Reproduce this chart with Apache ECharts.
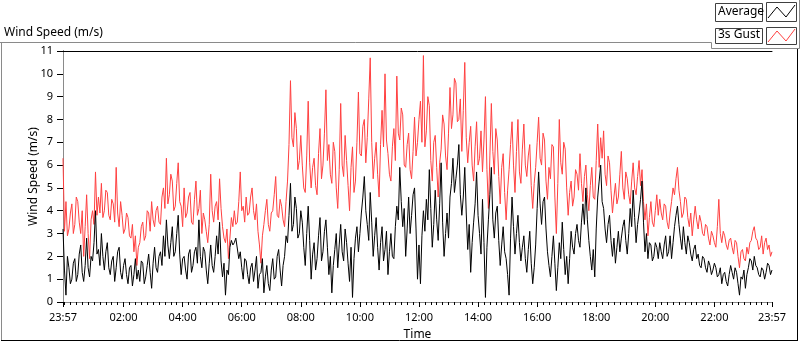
<!DOCTYPE html>
<html>
    <head>
        <title>Wind Speed (m/s)</title>
        <meta charset="UTF-8">
        <script src="https://cdn.jsdelivr.net/npm/echarts@6/dist/echarts.min.js"></script>
        <style>
            body { margin: 0; background-color: #fff; }
            #main { width: 800px; height: 342px; }
        </style>
    </head>
    <body>
        <div id="main"></div>
        <script>
            // one value every 3 minutes, starting at 23:57
            var stepMinutes = 3;
            var gust = [
                6.3, 3.1, 4.4, 2.9, 3.2, 3.9, 4.3, 3.0, 3.4, 4.6, 4.4, 3.5, 3.0, 4.0, 2.0, 3.3, 4.7, 3.0, 1.9, 3.6,
                4.0, 3.4, 5.7, 3.8, 4.6, 3.9, 5.2, 3.7, 4.0, 4.9, 4.8, 3.8, 3.6, 4.5, 4.3, 3.5, 5.9, 3.9, 3.3, 4.4,
                3.8, 3.0, 3.2, 3.9, 3.7, 2.9, 2.8, 3.4, 2.2, 2.9, 1.6, 2.4, 2.6, 3.3, 3.5, 2.7, 2.9, 4.0, 3.9, 3.1,
                4.4, 3.6, 3.3, 4.0, 4.2, 3.5, 3.4, 4.6, 5.0, 4.1, 6.3, 4.3, 4.7, 5.6, 5.3, 4.0, 4.2, 5.2, 6.1, 4.4,
                4.2, 3.3, 5.0, 3.7, 3.9, 4.6, 4.8, 3.5, 3.4, 4.5, 5.3, 3.8, 4.1, 4.9, 3.0, 3.9, 3.6, 3.1, 2.6, 3.4,
                5.6, 4.0, 3.5, 4.2, 4.4, 3.6, 5.4, 4.1, 3.3, 2.8, 2.6, 3.2, 1.9, 2.8, 3.7, 3.3, 4.0, 3.4, 3.5, 4.4,
                5.7, 4.0, 4.2, 3.5, 4.6, 3.8, 3.9, 4.6, 5.0, 4.0, 3.6, 4.3, 3.1, 2.5, 1.7, 2.9, 3.4, 4.0, 4.5, 3.4,
                3.1, 3.9, 4.0, 4.7, 5.5, 3.8, 3.7, 4.5, 4.2, 3.6, 3.3, 4.4, 5.3, 6.9, 9.7, 7.2, 6.8, 8.3, 7.6, 5.8,
                6.2, 7.3, 6.0, 5.0, 4.8, 6.4, 8.8, 6.1, 5.0, 5.9, 6.3, 5.1, 4.7, 6.5, 7.6, 5.4, 6.0, 7.4, 9.3, 6.2,
                6.9, 5.6, 5.2, 7.0, 6.6, 5.0, 4.1, 5.8, 8.7, 6.0, 5.5, 7.3, 6.2, 5.1, 4.0, 5.9, 6.8, 4.8, 5.3, 7.0,
                9.2, 6.5, 6.4, 7.7, 8.0, 6.1, 7.2, 8.9, 10.7, 7.0, 5.4, 6.3, 7.0, 5.6, 4.6, 6.9, 8.4, 6.8, 10.0, 7.1,
                6.5, 5.6, 5.3, 6.8, 7.6, 6.2, 9.9, 7.4, 7.1, 8.5, 8.2, 6.0, 5.9, 6.9, 7.4, 5.8, 5.4, 6.6, 8.1, 6.4,
                7.0, 8.0, 8.8, 7.0, 10.8, 6.8, 7.5, 9.0, 8.6, 6.2, 5.3, 7.0, 7.3, 5.9, 4.6, 6.1, 6.7, 8.2, 7.8, 6.4,
                5.8, 7.4, 9.4, 7.6, 8.2, 9.8, 9.6, 7.9, 8.0, 8.9, 6.6, 8.4, 10.5, 7.2, 6.1, 7.0, 7.7, 6.0, 5.3, 6.8,
                7.9, 6.0, 6.3, 7.5, 5.7, 7.1, 9.0, 5.8, 4.1, 6.4, 8.7, 6.6, 5.6, 7.6, 7.1, 5.5, 4.3, 5.9, 6.5, 4.8,
                3.6, 4.9, 5.8, 6.9, 7.9, 6.0, 4.8, 6.6, 8.0, 5.7, 5.2, 6.7, 7.8, 6.0, 5.5, 6.4, 6.9, 5.1, 4.1, 5.2,
                5.9, 7.0, 8.1, 6.3, 6.0, 7.4, 7.1, 5.3, 4.5, 5.9, 5.4, 6.9, 6.8, 4.6, 3.0, 5.2, 8.0, 6.1, 5.6, 7.0,
                6.7, 5.0, 3.8, 4.8, 5.3, 4.2, 4.6, 5.8, 5.6, 4.9, 6.5, 5.2, 4.4, 5.5, 6.0, 4.7, 4.0, 5.1, 5.9, 4.6,
                4.5, 6.2, 7.8, 5.9, 7.2, 6.3, 7.5, 5.6, 5.1, 6.4, 6.1, 4.9, 3.9, 4.6, 5.2, 4.3, 4.6, 5.6, 6.6, 5.0,
                4.5, 5.7, 5.4, 4.7, 4.3, 5.3, 6.1, 5.0, 4.7, 5.5, 6.2, 5.1, 5.8, 4.4, 3.6, 4.3, 2.9, 3.7, 4.4, 3.5,
                3.3, 4.0, 4.7, 3.8, 4.5, 3.9, 3.6, 4.3, 4.2, 3.5, 3.2, 3.9, 4.4, 5.0, 4.7, 5.4, 5.9, 4.9, 4.4, 3.7,
                3.9, 4.6, 4.5, 3.7, 3.3, 3.9, 2.9, 3.6, 4.2, 3.6, 3.2, 3.8, 3.5, 3.0, 2.9, 3.4, 3.3, 2.8, 2.5, 3.1,
                2.9, 2.6, 2.4, 3.3, 4.5, 3.0, 2.6, 3.1, 2.9, 2.5, 2.3, 2.7, 2.8, 2.4, 2.1, 2.7, 2.6, 2.0, 1.5, 2.2,
                2.3, 1.9, 1.8, 2.4, 2.1, 2.6, 2.7, 3.1, 3.3, 2.8, 2.7, 2.3, 2.4, 2.9, 2.1, 2.6, 2.8, 2.3, 2.5, 2.0,
                2.2
            ];
            var average = [
                3.2, 1.4, 0.3, 2.0, 1.5, 0.8, 1.0, 1.7, 1.9, 0.9, 1.2, 2.1, 2.5, 1.3, 0.9, 1.6, 2.8, 1.5, 1.1, 2.0,
                1.8, 2.6, 4.0, 2.1, 2.3, 1.6, 3.0, 2.0, 1.4, 2.2, 2.6, 1.5, 1.2, 1.8, 2.0, 0.9, 1.5, 2.2, 2.4, 1.3,
                1.0, 1.6, 1.9, 1.2, 0.8, 1.5, 1.6, 0.7, 1.2, 1.9, 1.0, 1.4, 0.9, 1.8, 1.7, 0.8, 1.1, 1.6, 2.1, 1.3,
                0.6, 1.7, 2.4, 1.5, 1.3, 2.0, 2.2, 1.6, 2.9, 2.0, 3.6, 2.5, 1.9, 2.6, 3.3, 2.0, 2.2, 3.0, 3.8, 2.1,
                1.2, 1.9, 2.0, 1.4, 1.0, 2.1, 2.3, 1.3, 1.6, 2.2, 2.4, 1.7, 3.6, 2.0, 1.5, 2.4, 2.2, 1.4, 0.8, 1.7,
                2.5, 1.6, 1.3, 2.0, 2.9, 2.1, 3.5, 1.8, 1.1, 1.7, 0.3, 1.4, 1.2, 2.4, 2.7, 2.5, 2.6, 2.8, 2.8, 1.9,
                2.2, 1.5, 1.0, 1.9, 1.8, 1.2, 0.8, 1.5, 1.7, 0.9, 1.4, 2.0, 0.6, 1.2, 1.3, 1.9, 0.4, 1.1, 1.6, 0.8,
                0.5, 1.4, 1.9, 1.0, 1.1, 2.0, 2.3, 1.4, 0.7, 1.6, 2.0, 2.9, 2.6, 3.8, 5.2, 3.1, 3.4, 4.6, 4.1, 2.8,
                3.0, 4.0, 3.5, 2.4, 1.6, 3.0, 4.2, 2.7, 1.0, 2.1, 2.6, 1.4, 1.9, 2.9, 3.7, 1.8, 2.2, 3.1, 3.6, 2.4,
                1.2, 2.0, 0.4, 1.6, 2.3, 3.0, 1.5, 2.5, 3.4, 2.2, 1.8, 3.2, 2.6, 1.7, 0.9, 2.4, 0.2, 1.9, 2.8, 3.3,
                2.2, 3.0, 3.9, 4.6, 5.5, 4.0, 3.4, 2.7, 4.8, 3.5, 2.0, 2.9, 3.7, 2.4, 1.4, 2.6, 3.3, 1.8, 2.3, 3.1,
                1.2, 2.2, 3.0, 2.0, 1.9, 3.3, 4.2, 3.6, 5.9, 4.4, 3.3, 4.1, 2.0, 3.2, 4.6, 3.0, 3.8, 4.7, 5.0, 3.2,
                1.0, 2.5, 0.8, 2.9, 4.0, 3.1, 4.5, 3.6, 5.8, 4.1, 2.4, 3.4, 4.9, 3.6, 2.7, 4.3, 6.1, 3.5, 2.0, 3.0,
                3.9, 2.8, 4.6, 5.2, 6.3, 4.8, 5.4, 6.0, 6.9, 4.7, 3.8, 4.6, 5.9, 3.9, 2.3, 3.4, 1.3, 2.6, 3.5, 4.3,
                5.7, 3.8, 3.0, 2.1, 4.5, 2.6, 0.2, 2.4, 3.6, 4.7, 5.9, 3.6, 2.8, 3.9, 4.2, 2.7, 1.6, 2.5, 3.3, 2.2,
                1.9, 1.2, 0.3, 2.8, 4.6, 3.3, 2.1, 3.0, 3.8, 2.6, 1.8, 2.4, 2.9, 1.9, 1.3, 2.3, 3.1, 1.7, 0.8, 1.5,
                2.5, 4.1, 5.7, 4.3, 3.4, 4.4, 4.6, 3.2, 2.2, 1.6, 1.1, 2.0, 2.9, 1.7, 0.5, 1.5, 2.6, 1.9, 3.5, 2.3,
                1.2, 2.0, 0.8, 1.9, 3.1, 2.4, 2.1, 3.0, 3.4, 2.7, 2.4, 3.5, 4.3, 3.4, 5.0, 3.6, 2.7, 2.0, 1.4, 2.3,
                1.1, 3.2, 4.6, 5.3, 6.0, 4.4, 4.1, 3.2, 2.6, 3.4, 3.8, 2.7, 2.0, 2.8, 1.7, 2.4, 3.1, 2.2, 2.8, 3.3,
                3.6, 2.7, 2.1, 3.0, 4.1, 3.3, 4.9, 3.7, 2.6, 3.4, 3.9, 4.5, 5.3, 3.5, 2.2, 3.0, 1.9, 2.6, 2.5, 1.8,
                2.0, 2.6, 2.4, 1.9, 2.6, 2.2, 1.9, 2.5, 2.9, 2.0, 2.2, 2.9, 1.9, 2.6, 3.3, 3.8, 4.2, 3.4, 2.8, 2.3,
                3.3, 2.6, 2.1, 2.9, 2.6, 2.1, 1.8, 2.3, 2.5, 1.9, 2.1, 1.6, 1.5, 2.0, 1.9, 1.5, 1.3, 1.8, 1.6, 1.2,
                1.4, 1.7, 1.5, 1.1, 1.2, 1.5, 0.8, 1.2, 1.3, 0.9, 0.7, 1.2, 1.6, 1.3, 1.0, 1.5, 1.3, 0.8, 0.3, 1.1,
                1.0, 1.4, 0.6, 1.2, 1.5, 1.9, 1.8, 1.4, 2.0, 1.6, 1.5, 1.2, 1.1, 1.5, 1.4, 1.0, 1.3, 1.7, 1.6, 1.2,
                1.4
            ];
            // minutes after 23:57 where the time labels sit
            var labelMinutes = [0, 123, 243, 363, 483, 603, 723, 843, 963, 1083, 1203, 1323, 1440];
            var minorMinutes = [];
            for (var m = 3; m < 1440; m += 12) {
                minorMinutes.push(m);
            }

            function toPairs(arr) {
                return arr.map(function (v, i) { return [i * stepMinutes, v]; });
            }
            function clock(min) {
                var t = (min - 3 + 1440) % 1440;
                var h = Math.floor(t / 60), mm = t % 60;
                return (h < 10 ? '0' : '') + h + ':' + (mm < 10 ? '0' : '') + mm;
            }

            var font = 'Noto Sans';
            var chart = echarts.init(document.getElementById('main'));
            var option = {
                animation: false,
                textStyle: { fontFamily: font },
                grid: { left: 63, right: 28, top: 51, bottom: 40, show: false, containLabel: false, outerBoundsMode: 'none' },
                graphic: [
                    { type: 'text', left: 4, top: 27, style: { text: 'Wind Speed (m/s)', font: '12px "Noto Sans"', fill: '#000' } },
                    { type: 'polyline', shape: { points: [[0, 42.5], [711.5, 42.5], [711.5, 48.5], [799.5, 48.5], [799.5, 0]] }, style: { stroke: '#8a8a8a', lineWidth: 1, fill: null } },
                    { type: 'line', shape: { x1: 1.5, y1: 42, x2: 1.5, y2: 341 }, style: { stroke: '#8a8a8a', lineWidth: 1 } },
                    { type: 'line', shape: { x1: 1, y1: 340.5, x2: 798, y2: 340.5 }, style: { stroke: '#000', lineWidth: 1 } },
                    { type: 'line', shape: { x1: 797.5, y1: 49, x2: 797.5, y2: 341 }, style: { stroke: '#000', lineWidth: 1 } },
                    // legend boxes
                    { type: 'rect', shape: { x: 715.5, y: 3.5, width: 47, height: 18 }, style: { stroke: '#404040', fill: '#fff', lineWidth: 1 } },
                    { type: 'text', left: 718, top: 6, style: { text: 'Average', font: '12px "Noto Sans"', fill: '#000' } },
                    { type: 'rect', shape: { x: 766.5, y: 2.5, width: 30, height: 19 }, style: { stroke: '#404040', fill: '#fff', lineWidth: 1 } },
                    { type: 'polyline', shape: { points: [[768, 18], [777, 7], [786, 17], [795, 5]] }, style: { stroke: '#000', lineWidth: 1, fill: null } },
                    { type: 'rect', shape: { x: 715.5, y: 28.5, width: 47, height: 15 }, style: { stroke: '#404040', fill: '#fff', lineWidth: 1 } },
                    { type: 'text', left: 718, top: 29, style: { text: '3s Gust', font: '12px "Noto Sans"', fill: '#000' } },
                    { type: 'rect', shape: { x: 766.5, y: 27.5, width: 30, height: 17 }, style: { stroke: '#404040', fill: '#fff', lineWidth: 1 } },
                    { type: 'polyline', shape: { points: [[768, 42], [777, 31], [786, 41], [795, 29]] }, style: { stroke: '#ff4040', lineWidth: 1, fill: null } }
                ],
                xAxis: [
                    {
                        type: 'value', min: 0, max: 1440, position: 'bottom',
                        name: 'Time', nameLocation: 'middle', nameGap: 27, nameMoveOverlap: false,
                        nameTextStyle: { fontSize: 12, color: '#000', fontFamily: font },
                        axisLine: { show: true, lineStyle: { color: '#8a8a8a', width: 1 } },
                        axisTick: { show: true, length: 5, customValues: labelMinutes, lineStyle: { color: '#000' } },
                        axisLabel: {
                            customValues: labelMinutes, margin: 10, fontSize: 11, color: '#000', fontFamily: font,
                            formatter: function (v) { return clock(v); }
                        },
                        splitLine: { show: false }
                    },
                    {
                        type: 'value', min: 0, max: 1440, position: 'bottom',
                        axisLine: { show: false },
                        axisTick: { show: true, length: 3, customValues: minorMinutes, lineStyle: { color: '#000' } },
                        axisLabel: { show: false },
                        splitLine: { show: false }
                    },
                    {
                        type: 'value', min: 0, max: 1440, position: 'top',
                        axisLine: { show: true, lineStyle: { color: '#000', width: 1 } },
                        axisTick: { show: false }, axisLabel: { show: false }, splitLine: { show: false }
                    }
                ],
                yAxis: [
                    {
                        type: 'value', min: 0, max: 11, interval: 1, position: 'left',
                        name: 'Wind Speed (m/s)', nameLocation: 'middle', nameGap: 23, nameRotate: 90, nameMoveOverlap: false,
                        nameTextStyle: { fontSize: 12, color: '#000', fontFamily: font },
                        axisLine: { show: true, lineStyle: { color: '#000', width: 1 } },
                        axisTick: { show: true, length: 6, lineStyle: { color: '#000' } },
                        axisLabel: { margin: 10, fontSize: 11, color: '#000', fontFamily: font },
                        splitLine: { show: false }
                    },
                    {
                        type: 'value', min: 0, max: 11, position: 'right',
                        axisLine: { show: true, lineStyle: { color: '#8a8a8a', width: 1 } },
                        axisTick: { show: false }, axisLabel: { show: false }, splitLine: { show: false }
                    }
                ],
                series: [
                    {
                        name: '3s Gust', type: 'line', xAxisIndex: 0, yAxisIndex: 0,
                        data: toPairs(gust), showSymbol: false,
                        lineStyle: { color: '#ff4040', width: 1 }, itemStyle: { color: '#ff4040' }
                    },
                    {
                        name: 'Average', type: 'line', xAxisIndex: 0, yAxisIndex: 0,
                        data: toPairs(average), showSymbol: false,
                        lineStyle: { color: '#000', width: 1 }, itemStyle: { color: '#000' }
                    }
                ]
            };
            chart.setOption(option);
        </script>
    </body>
</html>
